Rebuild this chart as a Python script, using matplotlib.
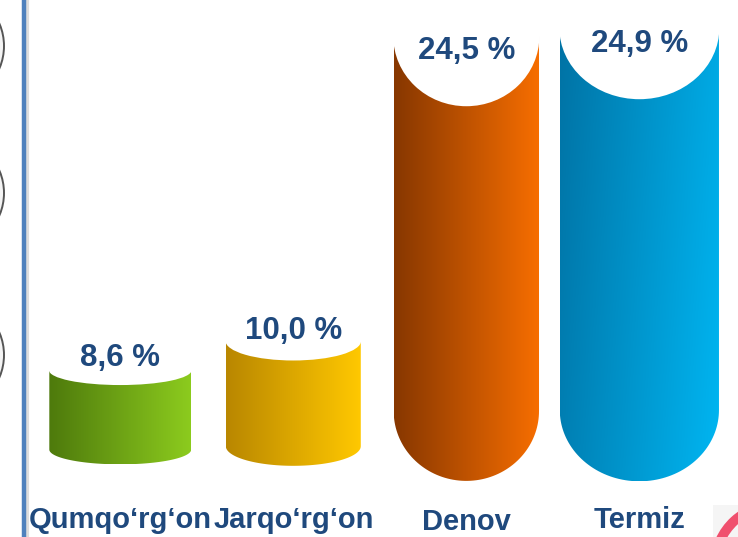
import numpy as np
import matplotlib
matplotlib.use("Agg")
import matplotlib.pyplot as plt
from matplotlib.patches import Polygon, Ellipse, Circle, Arc, Rectangle
from matplotlib.colors import LinearSegmentedColormap

# data
categories = ["Qumqo\u2018rg\u2018on", "Jarqo\u2018rg\u2018on", "Denov", "Termiz"]
values = [8.6, 10.0, 24.5, 24.9]
value_labels = ["8,6 %", "10,0 %", "24,5 %", "24,9 %"]

# style: gradient colours (left -> right) and bar widths (axis units)
grad_colors = [("#4e7a0c", "#8ccb1e"),
               ("#b98700", "#ffc800"),
               ("#873700", "#f76e00"),
               ("#0073a5", "#00b6f2")]
bar_widths = [0.82, 0.78, 0.84, 0.92]
text_color = "#1f497d"

W, H = 738, 537
fig = plt.figure(figsize=(W / 100, H / 100), dpi=100)

# decoration layer in pixel coordinates
deco = fig.add_axes([0, 0, 1, 1])
deco.set_xlim(0, W)
deco.set_ylim(H, 0)
deco.axis("off")

for cy in [46, 193, 355]:
    deco.add_patch(Circle((-53, cy), 57, facecolor="#f4f4f4", edgecolor="#555555", lw=1.4))
deco.plot([27, 27], [0, H], color="#dddddd", lw=3, solid_capstyle="butt")
deco.plot([24, 24], [0, H], color="#4f81bd", lw=3.2, solid_capstyle="butt")
deco.add_patch(Rectangle((713, 505), 30, 40, facecolor="#f5f5f5", edgecolor="none"))
deco.add_patch(Arc((775, 565), 120, 120, theta1=180, theta2=275, color="#f0506e", lw=7))

# chart layer
ax = fig.add_axes([0, 0, 1, 1])
ax.patch.set_alpha(0)
xlim = (-0.695, 3.57)
ylim = (0.66, 26.23)
ax.set_xlim(*xlim)
ax.set_ylim(*ylim)
ax.axis("off")

px_x = W / (xlim[1] - xlim[0])
px_y = H / (ylim[1] - ylim[0])
base = 4.33

for i, (v, lab, cat) in enumerate(zip(values, value_labels, categories)):
    x = i
    hw = bar_widths[i] / 2
    d_px = min(0.165 * (v - base) * px_y, hw * px_x)
    d = d_px / px_y
    bottom = base - 0.3 * d

    t = np.linspace(np.pi, 2 * np.pi, 80)
    arc_x = x + hw * np.cos(t)
    arc_y = bottom + d + d * np.sin(t)
    verts = [(x - hw, v)] + list(zip(arc_x, arc_y)) + [(x + hw, v)]
    body = Polygon(verts, closed=True, facecolor="none", edgecolor="none")
    ax.add_patch(body)

    cmap = LinearSegmentedColormap.from_list("g%d" % i, grad_colors[i])
    GX, GY = np.meshgrid(np.linspace(0, 1, 200), np.linspace(0, 1, 200))
    if i == 3:
        grad = 0.8 * GX + 0.2 * (1 - GY)
    else:
        grad = GX
    im = ax.imshow(grad, extent=(x - hw, x + hw, bottom, v), origin="lower",
                   cmap=cmap, aspect="auto", interpolation="bilinear", zorder=2)
    im.set_clip_path(body)

    ax.add_patch(Ellipse((x, v), 2 * hw * 1.005, 2 * d, facecolor="white",
                         edgecolor="none", zorder=3))

    ly = v + (20 - 0.5 * d_px) / px_y
    ax.text(x, ly, lab, ha="center", va="center", color=text_color,
            fontsize=22.5, fontweight="bold", family="Liberation Sans", zorder=4)

    cy = 1.47 if cat != "Denov" else 1.36
    ax.text(x, cy, cat, ha="center", va="center", color=text_color,
            fontsize=21, fontweight="bold", family="Liberation Sans", zorder=4)

fig.savefig("out.png", dpi=100)
